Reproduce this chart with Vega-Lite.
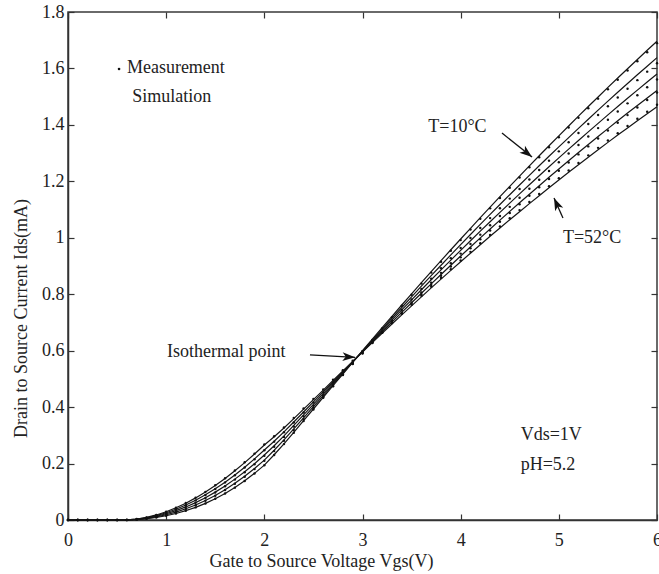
{
  "$schema": "https://vega.github.io/schema/vega-lite/v6.json",
  "width": 589,
  "height": 508,
  "autosize": "none",
  "padding": {"left": 68, "top": 12, "right": 2, "bottom": 54},
  "background": "white",
  "config": {
    "view": {"stroke": "#3a3a3a", "strokeWidth": 1.5},
    "font": "Liberation Serif",
    "axis": {
      "labelFont": "Liberation Serif",
      "titleFont": "Liberation Serif",
      "labelFontSize": 18,
      "titleFontSize": 18,
      "titleFontWeight": "normal",
      "labelColor": "#222",
      "titleColor": "#222",
      "tickColor": "#333",
      "domainColor": "#333",
      "domainWidth": 1.5,
      "tickWidth": 1.2,
      "grid": false
    }
  },
  "datasets": {
    "curves": [
      {"T": 10, "v": 0, "sim": 0, "meas": 0}, {"T": 10, "v": 0.1, "sim": 0, "meas": 0}, {"T": 10, "v": 0.2, "sim": 0, "meas": 0}, {"T": 10, "v": 0.3, "sim": 0, "meas": 0}, {"T": 10, "v": 0.4, "sim": 0, "meas": 0}, {"T": 10, "v": 0.5, "sim": 0, "meas": 0},
      {"T": 10, "v": 0.6, "sim": 0.0002, "meas": 0.0002}, {"T": 10, "v": 0.7, "sim": 0.0016, "meas": 0.0016}, {"T": 10, "v": 0.8, "sim": 0.0044, "meas": 0.0044}, {"T": 10, "v": 0.9, "sim": 0.0089, "meas": 0.0089}, {"T": 10, "v": 1.0, "sim": 0.0151, "meas": 0.0150},
      {"T": 10, "v": 1.1, "sim": 0.0230, "meas": 0.0229}, {"T": 10, "v": 1.2, "sim": 0.0330, "meas": 0.0329}, {"T": 10, "v": 1.3, "sim": 0.0449, "meas": 0.0447}, {"T": 10, "v": 1.4, "sim": 0.0590, "meas": 0.0588}, {"T": 10, "v": 1.5, "sim": 0.0753, "meas": 0.0750},
      {"T": 10, "v": 1.6, "sim": 0.0940, "meas": 0.0936}, {"T": 10, "v": 1.7, "sim": 0.1152, "meas": 0.1147}, {"T": 10, "v": 1.8, "sim": 0.1389, "meas": 0.1383}, {"T": 10, "v": 1.9, "sim": 0.1653, "meas": 0.1646}, {"T": 10, "v": 2.0, "sim": 0.1945, "meas": 0.1937},
      {"T": 10, "v": 2.1, "sim": 0.2312, "meas": 0.2303}, {"T": 10, "v": 2.2, "sim": 0.2700, "meas": 0.2689}, {"T": 10, "v": 2.3, "sim": 0.3107, "meas": 0.3095}, {"T": 10, "v": 2.4, "sim": 0.3520, "meas": 0.3506}, {"T": 10, "v": 2.5, "sim": 0.3933, "meas": 0.3917},
      {"T": 10, "v": 2.6, "sim": 0.4346, "meas": 0.4329}, {"T": 10, "v": 2.7, "sim": 0.4759, "meas": 0.4740}, {"T": 10, "v": 2.8, "sim": 0.5172, "meas": 0.5151}, {"T": 10, "v": 2.9, "sim": 0.5585, "meas": 0.5563}, {"T": 10, "v": 3.0, "sim": 0.5997, "meas": 0.5973},
      {"T": 10, "v": 3.1, "sim": 0.6407, "meas": 0.6381}, {"T": 10, "v": 3.2, "sim": 0.6814, "meas": 0.6787}, {"T": 10, "v": 3.3, "sim": 0.7217, "meas": 0.7188}, {"T": 10, "v": 3.4, "sim": 0.7618, "meas": 0.7588}, {"T": 10, "v": 3.5, "sim": 0.8015, "meas": 0.7983},
      {"T": 10, "v": 3.6, "sim": 0.8410, "meas": 0.8376}, {"T": 10, "v": 3.7, "sim": 0.8801, "meas": 0.8766}, {"T": 10, "v": 3.8, "sim": 0.9190, "meas": 0.9153}, {"T": 10, "v": 3.9, "sim": 0.9575, "meas": 0.9537}, {"T": 10, "v": 4.0, "sim": 0.9957, "meas": 0.9917},
      {"T": 10, "v": 4.1, "sim": 1.0336, "meas": 1.0295}, {"T": 10, "v": 4.2, "sim": 1.0713, "meas": 1.0670}, {"T": 10, "v": 4.3, "sim": 1.1086, "meas": 1.1042}, {"T": 10, "v": 4.4, "sim": 1.1456, "meas": 1.1410}, {"T": 10, "v": 4.5, "sim": 1.1823, "meas": 1.1776},
      {"T": 10, "v": 4.6, "sim": 1.2187, "meas": 1.2138}, {"T": 10, "v": 4.7, "sim": 1.2548, "meas": 1.2498}, {"T": 10, "v": 4.8, "sim": 1.2906, "meas": 1.2854}, {"T": 10, "v": 4.9, "sim": 1.3261, "meas": 1.3208}, {"T": 10, "v": 5.0, "sim": 1.3613, "meas": 1.3559},
      {"T": 10, "v": 5.1, "sim": 1.3962, "meas": 1.3906}, {"T": 10, "v": 5.2, "sim": 1.4308, "meas": 1.4251}, {"T": 10, "v": 5.3, "sim": 1.4650, "meas": 1.4591}, {"T": 10, "v": 5.4, "sim": 1.4990, "meas": 1.4930}, {"T": 10, "v": 5.5, "sim": 1.5327, "meas": 1.5266},
      {"T": 10, "v": 5.6, "sim": 1.5660, "meas": 1.5597}, {"T": 10, "v": 5.7, "sim": 1.5991, "meas": 1.5927}, {"T": 10, "v": 5.8, "sim": 1.6319, "meas": 1.6254}, {"T": 10, "v": 5.9, "sim": 1.6643, "meas": 1.6576}, {"T": 10, "v": 6.0, "sim": 1.6965, "meas": 1.6897},

      {"T": 20, "v": 0, "sim": 0, "meas": 0}, {"T": 20, "v": 0.1, "sim": 0, "meas": 0}, {"T": 20, "v": 0.2, "sim": 0, "meas": 0}, {"T": 20, "v": 0.3, "sim": 0, "meas": 0}, {"T": 20, "v": 0.4, "sim": 0, "meas": 0}, {"T": 20, "v": 0.5, "sim": 0, "meas": 0},
      {"T": 20, "v": 0.6, "sim": 0.0002, "meas": 0.0002}, {"T": 20, "v": 0.7, "sim": 0.0020, "meas": 0.0020}, {"T": 20, "v": 0.8, "sim": 0.0056, "meas": 0.0055}, {"T": 20, "v": 0.9, "sim": 0.0111, "meas": 0.0110}, {"T": 20, "v": 1.0, "sim": 0.0186, "meas": 0.0184},
      {"T": 20, "v": 1.1, "sim": 0.0281, "meas": 0.0278}, {"T": 20, "v": 1.2, "sim": 0.0397, "meas": 0.0392}, {"T": 20, "v": 1.3, "sim": 0.0533, "meas": 0.0527}, {"T": 20, "v": 1.4, "sim": 0.0690, "meas": 0.0682}, {"T": 20, "v": 1.5, "sim": 0.0871, "meas": 0.0861},
      {"T": 20, "v": 1.6, "sim": 0.1074, "meas": 0.1061}, {"T": 20, "v": 1.7, "sim": 0.1300, "meas": 0.1284}, {"T": 20, "v": 1.8, "sim": 0.1550, "meas": 0.1531}, {"T": 20, "v": 1.9, "sim": 0.1825, "meas": 0.1803}, {"T": 20, "v": 2.0, "sim": 0.2123, "meas": 0.2098},
      {"T": 20, "v": 2.1, "sim": 0.2471, "meas": 0.2441}, {"T": 20, "v": 2.2, "sim": 0.2840, "meas": 0.2806}, {"T": 20, "v": 2.3, "sim": 0.3228, "meas": 0.3189}, {"T": 20, "v": 2.4, "sim": 0.3622, "meas": 0.3579}, {"T": 20, "v": 2.5, "sim": 0.4016, "meas": 0.3968},
      {"T": 20, "v": 2.6, "sim": 0.4410, "meas": 0.4357}, {"T": 20, "v": 2.7, "sim": 0.4804, "meas": 0.4746}, {"T": 20, "v": 2.8, "sim": 0.5198, "meas": 0.5136}, {"T": 20, "v": 2.9, "sim": 0.5592, "meas": 0.5525}, {"T": 20, "v": 3.0, "sim": 0.5985, "meas": 0.5913},
      {"T": 20, "v": 3.1, "sim": 0.6376, "meas": 0.6299}, {"T": 20, "v": 3.2, "sim": 0.6764, "meas": 0.6683}, {"T": 20, "v": 3.3, "sim": 0.7148, "meas": 0.7062}, {"T": 20, "v": 3.4, "sim": 0.7530, "meas": 0.7440}, {"T": 20, "v": 3.5, "sim": 0.7908, "meas": 0.7813},
      {"T": 20, "v": 3.6, "sim": 0.8284, "meas": 0.8185}, {"T": 20, "v": 3.7, "sim": 0.8656, "meas": 0.8552}, {"T": 20, "v": 3.8, "sim": 0.9026, "meas": 0.8918}, {"T": 20, "v": 3.9, "sim": 0.9392, "meas": 0.9279}, {"T": 20, "v": 4.0, "sim": 0.9755, "meas": 0.9638},
      {"T": 20, "v": 4.1, "sim": 1.0115, "meas": 0.9994}, {"T": 20, "v": 4.2, "sim": 1.0473, "meas": 1.0347}, {"T": 20, "v": 4.3, "sim": 1.0827, "meas": 1.0697}, {"T": 20, "v": 4.4, "sim": 1.1178, "meas": 1.1044}, {"T": 20, "v": 4.5, "sim": 1.1526, "meas": 1.1388},
      {"T": 20, "v": 4.6, "sim": 1.1871, "meas": 1.1729}, {"T": 20, "v": 4.7, "sim": 1.2213, "meas": 1.2066}, {"T": 20, "v": 4.8, "sim": 1.2552, "meas": 1.2401}, {"T": 20, "v": 4.9, "sim": 1.2888, "meas": 1.2733}, {"T": 20, "v": 5.0, "sim": 1.3221, "meas": 1.3062},
      {"T": 20, "v": 5.1, "sim": 1.3551, "meas": 1.3388}, {"T": 20, "v": 5.2, "sim": 1.3878, "meas": 1.3711}, {"T": 20, "v": 5.3, "sim": 1.4201, "meas": 1.4031}, {"T": 20, "v": 5.4, "sim": 1.4522, "meas": 1.4348}, {"T": 20, "v": 5.5, "sim": 1.4840, "meas": 1.4662},
      {"T": 20, "v": 5.6, "sim": 1.5154, "meas": 1.4972}, {"T": 20, "v": 5.7, "sim": 1.5466, "meas": 1.5280}, {"T": 20, "v": 5.8, "sim": 1.5775, "meas": 1.5586}, {"T": 20, "v": 5.9, "sim": 1.6080, "meas": 1.5887}, {"T": 20, "v": 6.0, "sim": 1.6383, "meas": 1.6186},

      {"T": 30, "v": 0, "sim": 0, "meas": 0}, {"T": 30, "v": 0.1, "sim": 0, "meas": 0}, {"T": 30, "v": 0.2, "sim": 0, "meas": 0}, {"T": 30, "v": 0.3, "sim": 0, "meas": 0}, {"T": 30, "v": 0.4, "sim": 0, "meas": 0}, {"T": 30, "v": 0.5, "sim": 0, "meas": 0},
      {"T": 30, "v": 0.6, "sim": 0.0003, "meas": 0.0003}, {"T": 30, "v": 0.7, "sim": 0.0025, "meas": 0.0025}, {"T": 30, "v": 0.8, "sim": 0.0068, "meas": 0.0067}, {"T": 30, "v": 0.9, "sim": 0.0134, "meas": 0.0132}, {"T": 30, "v": 1.0, "sim": 0.0222, "meas": 0.0219},
      {"T": 30, "v": 1.1, "sim": 0.0331, "meas": 0.0327}, {"T": 30, "v": 1.2, "sim": 0.0463, "meas": 0.0457}, {"T": 30, "v": 1.3, "sim": 0.0616, "meas": 0.0609}, {"T": 30, "v": 1.4, "sim": 0.0791, "meas": 0.0782}, {"T": 30, "v": 1.5, "sim": 0.0988, "meas": 0.0976},
      {"T": 30, "v": 1.6, "sim": 0.1207, "meas": 0.1193}, {"T": 30, "v": 1.7, "sim": 0.1448, "meas": 0.1431}, {"T": 30, "v": 1.8, "sim": 0.1711, "meas": 0.1690}, {"T": 30, "v": 1.9, "sim": 0.1996, "meas": 0.1972}, {"T": 30, "v": 2.0, "sim": 0.2302, "meas": 0.2274},
      {"T": 30, "v": 2.1, "sim": 0.2631, "meas": 0.2599}, {"T": 30, "v": 2.2, "sim": 0.2981, "meas": 0.2945}, {"T": 30, "v": 2.3, "sim": 0.3350, "meas": 0.3310}, {"T": 30, "v": 2.4, "sim": 0.3725, "meas": 0.3680}, {"T": 30, "v": 2.5, "sim": 0.4100, "meas": 0.4051},
      {"T": 30, "v": 2.6, "sim": 0.4475, "meas": 0.4421}, {"T": 30, "v": 2.7, "sim": 0.4850, "meas": 0.4792}, {"T": 30, "v": 2.8, "sim": 0.5225, "meas": 0.5162}, {"T": 30, "v": 2.9, "sim": 0.5600, "meas": 0.5533}, {"T": 30, "v": 3.0, "sim": 0.5974, "meas": 0.5902},
      {"T": 30, "v": 3.1, "sim": 0.6346, "meas": 0.6270}, {"T": 30, "v": 3.2, "sim": 0.6715, "meas": 0.6634}, {"T": 30, "v": 3.3, "sim": 0.7080, "meas": 0.6995}, {"T": 30, "v": 3.4, "sim": 0.7443, "meas": 0.7354}, {"T": 30, "v": 3.5, "sim": 0.7802, "meas": 0.7708},
      {"T": 30, "v": 3.6, "sim": 0.8159, "meas": 0.8061}, {"T": 30, "v": 3.7, "sim": 0.8512, "meas": 0.8410}, {"T": 30, "v": 3.8, "sim": 0.8863, "meas": 0.8757}, {"T": 30, "v": 3.9, "sim": 0.9210, "meas": 0.9099}, {"T": 30, "v": 4.0, "sim": 0.9554, "meas": 0.9439},
      {"T": 30, "v": 4.1, "sim": 0.9895, "meas": 0.9776}, {"T": 30, "v": 4.2, "sim": 1.0234, "meas": 1.0111}, {"T": 30, "v": 4.3, "sim": 1.0569, "meas": 1.0442}, {"T": 30, "v": 4.4, "sim": 1.0901, "meas": 1.0770}, {"T": 30, "v": 4.5, "sim": 1.1230, "meas": 1.1095},
      {"T": 30, "v": 4.6, "sim": 1.1556, "meas": 1.1417}, {"T": 30, "v": 4.7, "sim": 1.1879, "meas": 1.1736}, {"T": 30, "v": 4.8, "sim": 1.2199, "meas": 1.2053}, {"T": 30, "v": 4.9, "sim": 1.2516, "meas": 1.2366}, {"T": 30, "v": 5.0, "sim": 1.2830, "meas": 1.2676},
      {"T": 30, "v": 5.1, "sim": 1.3141, "meas": 1.2983}, {"T": 30, "v": 5.2, "sim": 1.3449, "meas": 1.3288}, {"T": 30, "v": 5.3, "sim": 1.3753, "meas": 1.3588}, {"T": 30, "v": 5.4, "sim": 1.4055, "meas": 1.3886}, {"T": 30, "v": 5.5, "sim": 1.4354, "meas": 1.4182},
      {"T": 30, "v": 5.6, "sim": 1.4649, "meas": 1.4473}, {"T": 30, "v": 5.7, "sim": 1.4942, "meas": 1.4763}, {"T": 30, "v": 5.8, "sim": 1.5232, "meas": 1.5049}, {"T": 30, "v": 5.9, "sim": 1.5518, "meas": 1.5332}, {"T": 30, "v": 6.0, "sim": 1.5802, "meas": 1.5612},

      {"T": 40, "v": 0, "sim": 0, "meas": 0}, {"T": 40, "v": 0.1, "sim": 0, "meas": 0}, {"T": 40, "v": 0.2, "sim": 0, "meas": 0}, {"T": 40, "v": 0.3, "sim": 0, "meas": 0}, {"T": 40, "v": 0.4, "sim": 0, "meas": 0}, {"T": 40, "v": 0.5, "sim": 0, "meas": 0},
      {"T": 40, "v": 0.6, "sim": 0.0004, "meas": 0.0004}, {"T": 40, "v": 0.7, "sim": 0.0030, "meas": 0.0030}, {"T": 40, "v": 0.8, "sim": 0.0080, "meas": 0.0080}, {"T": 40, "v": 0.9, "sim": 0.0157, "meas": 0.0156}, {"T": 40, "v": 1.0, "sim": 0.0258, "meas": 0.0257},
      {"T": 40, "v": 1.1, "sim": 0.0381, "meas": 0.0379}, {"T": 40, "v": 1.2, "sim": 0.0529, "meas": 0.0526}, {"T": 40, "v": 1.3, "sim": 0.0699, "meas": 0.0696}, {"T": 40, "v": 1.4, "sim": 0.0892, "meas": 0.0888}, {"T": 40, "v": 1.5, "sim": 0.1105, "meas": 0.1099},
      {"T": 40, "v": 1.6, "sim": 0.1340, "meas": 0.1333}, {"T": 40, "v": 1.7, "sim": 0.1596, "meas": 0.1588}, {"T": 40, "v": 1.8, "sim": 0.1872, "meas": 0.1863}, {"T": 40, "v": 1.9, "sim": 0.2167, "meas": 0.2156}, {"T": 40, "v": 2.0, "sim": 0.2481, "meas": 0.2469},
      {"T": 40, "v": 2.1, "sim": 0.2791, "meas": 0.2777}, {"T": 40, "v": 2.2, "sim": 0.3122, "meas": 0.3106}, {"T": 40, "v": 2.3, "sim": 0.3472, "meas": 0.3455}, {"T": 40, "v": 2.4, "sim": 0.3828, "meas": 0.3809}, {"T": 40, "v": 2.5, "sim": 0.4184, "meas": 0.4163},
      {"T": 40, "v": 2.6, "sim": 0.4540, "meas": 0.4517}, {"T": 40, "v": 2.7, "sim": 0.4896, "meas": 0.4872}, {"T": 40, "v": 2.8, "sim": 0.5252, "meas": 0.5226}, {"T": 40, "v": 2.9, "sim": 0.5608, "meas": 0.5580}, {"T": 40, "v": 3.0, "sim": 0.5963, "meas": 0.5933},
      {"T": 40, "v": 3.1, "sim": 0.6316, "meas": 0.6284}, {"T": 40, "v": 3.2, "sim": 0.6666, "meas": 0.6633}, {"T": 40, "v": 3.3, "sim": 0.7012, "meas": 0.6977}, {"T": 40, "v": 3.4, "sim": 0.7356, "meas": 0.7319}, {"T": 40, "v": 3.5, "sim": 0.7696, "meas": 0.7658},
      {"T": 40, "v": 3.6, "sim": 0.8034, "meas": 0.7994}, {"T": 40, "v": 3.7, "sim": 0.8368, "meas": 0.8326}, {"T": 40, "v": 3.8, "sim": 0.8700, "meas": 0.8657}, {"T": 40, "v": 3.9, "sim": 0.9028, "meas": 0.8983}, {"T": 40, "v": 4.0, "sim": 0.9353, "meas": 0.9306},
      {"T": 40, "v": 4.1, "sim": 0.9675, "meas": 0.9627}, {"T": 40, "v": 4.2, "sim": 0.9995, "meas": 0.9945}, {"T": 40, "v": 4.3, "sim": 1.0311, "meas": 1.0259}, {"T": 40, "v": 4.4, "sim": 1.0624, "meas": 1.0571}, {"T": 40, "v": 4.5, "sim": 1.0934, "meas": 1.0879},
      {"T": 40, "v": 4.6, "sim": 1.1241, "meas": 1.1185}, {"T": 40, "v": 4.7, "sim": 1.1545, "meas": 1.1487}, {"T": 40, "v": 4.8, "sim": 1.1846, "meas": 1.1787}, {"T": 40, "v": 4.9, "sim": 1.2144, "meas": 1.2083}, {"T": 40, "v": 5.0, "sim": 1.2439, "meas": 1.2377},
      {"T": 40, "v": 5.1, "sim": 1.2731, "meas": 1.2667}, {"T": 40, "v": 5.2, "sim": 1.3020, "meas": 1.2955}, {"T": 40, "v": 5.3, "sim": 1.3305, "meas": 1.3238}, {"T": 40, "v": 5.4, "sim": 1.3588, "meas": 1.3520}, {"T": 40, "v": 5.5, "sim": 1.3868, "meas": 1.3799},
      {"T": 40, "v": 5.6, "sim": 1.4144, "meas": 1.4073}, {"T": 40, "v": 5.7, "sim": 1.4418, "meas": 1.4346}, {"T": 40, "v": 5.8, "sim": 1.4689, "meas": 1.4616}, {"T": 40, "v": 5.9, "sim": 1.4956, "meas": 1.4881}, {"T": 40, "v": 6.0, "sim": 1.5221, "meas": 1.5145},

      {"T": 52, "v": 0, "sim": 0, "meas": 0}, {"T": 52, "v": 0.1, "sim": 0, "meas": 0}, {"T": 52, "v": 0.2, "sim": 0, "meas": 0}, {"T": 52, "v": 0.3, "sim": 0, "meas": 0}, {"T": 52, "v": 0.4, "sim": 0, "meas": 0}, {"T": 52, "v": 0.5, "sim": 0, "meas": 0},
      {"T": 52, "v": 0.6, "sim": 0.0004, "meas": 0.0004}, {"T": 52, "v": 0.7, "sim": 0.0034, "meas": 0.0034}, {"T": 52, "v": 0.8, "sim": 0.0092, "meas": 0.0092}, {"T": 52, "v": 0.9, "sim": 0.0179, "meas": 0.0180}, {"T": 52, "v": 1.0, "sim": 0.0293, "meas": 0.0294},
      {"T": 52, "v": 1.1, "sim": 0.0432, "meas": 0.0434}, {"T": 52, "v": 1.2, "sim": 0.0596, "meas": 0.0599}, {"T": 52, "v": 1.3, "sim": 0.0783, "meas": 0.0787}, {"T": 52, "v": 1.4, "sim": 0.0992, "meas": 0.0997}, {"T": 52, "v": 1.5, "sim": 0.1223, "meas": 0.1229},
      {"T": 52, "v": 1.6, "sim": 0.1474, "meas": 0.1481}, {"T": 52, "v": 1.7, "sim": 0.1744, "meas": 0.1753}, {"T": 52, "v": 1.8, "sim": 0.2033, "meas": 0.2043}, {"T": 52, "v": 1.9, "sim": 0.2339, "meas": 0.2351}, {"T": 52, "v": 2.0, "sim": 0.2659, "meas": 0.2672},
      {"T": 52, "v": 2.1, "sim": 0.2950, "meas": 0.2965}, {"T": 52, "v": 2.2, "sim": 0.3262, "meas": 0.3278}, {"T": 52, "v": 2.3, "sim": 0.3593, "meas": 0.3611}, {"T": 52, "v": 2.4, "sim": 0.3930, "meas": 0.3950}, {"T": 52, "v": 2.5, "sim": 0.4267, "meas": 0.4288},
      {"T": 52, "v": 2.6, "sim": 0.4604, "meas": 0.4627}, {"T": 52, "v": 2.7, "sim": 0.4941, "meas": 0.4966}, {"T": 52, "v": 2.8, "sim": 0.5278, "meas": 0.5304}, {"T": 52, "v": 2.9, "sim": 0.5615, "meas": 0.5643}, {"T": 52, "v": 3.0, "sim": 0.5951, "meas": 0.5981},
      {"T": 52, "v": 3.1, "sim": 0.6285, "meas": 0.6316}, {"T": 52, "v": 3.2, "sim": 0.6616, "meas": 0.6649}, {"T": 52, "v": 3.3, "sim": 0.6943, "meas": 0.6978}, {"T": 52, "v": 3.4, "sim": 0.7268, "meas": 0.7304}, {"T": 52, "v": 3.5, "sim": 0.7589, "meas": 0.7627},
      {"T": 52, "v": 3.6, "sim": 0.7908, "meas": 0.7948}, {"T": 52, "v": 3.7, "sim": 0.8223, "meas": 0.8264}, {"T": 52, "v": 3.8, "sim": 0.8536, "meas": 0.8579}, {"T": 52, "v": 3.9, "sim": 0.8845, "meas": 0.8889}, {"T": 52, "v": 4.0, "sim": 0.9151, "meas": 0.9197},
      {"T": 52, "v": 4.1, "sim": 0.9454, "meas": 0.9501}, {"T": 52, "v": 4.2, "sim": 0.9755, "meas": 0.9804}, {"T": 52, "v": 4.3, "sim": 1.0052, "meas": 1.0102}, {"T": 52, "v": 4.4, "sim": 1.0346, "meas": 1.0398}, {"T": 52, "v": 4.5, "sim": 1.0637, "meas": 1.0690},
      {"T": 52, "v": 4.6, "sim": 1.0925, "meas": 1.0980}, {"T": 52, "v": 4.7, "sim": 1.1210, "meas": 1.1266}, {"T": 52, "v": 4.8, "sim": 1.1492, "meas": 1.1549}, {"T": 52, "v": 4.9, "sim": 1.1771, "meas": 1.1830}, {"T": 52, "v": 5.0, "sim": 1.2047, "meas": 1.2107},
      {"T": 52, "v": 5.1, "sim": 1.2320, "meas": 1.2382}, {"T": 52, "v": 5.2, "sim": 1.2590, "meas": 1.2653}, {"T": 52, "v": 5.3, "sim": 1.2856, "meas": 1.2920}, {"T": 52, "v": 5.4, "sim": 1.3120, "meas": 1.3186}, {"T": 52, "v": 5.5, "sim": 1.3381, "meas": 1.3448},
      {"T": 52, "v": 5.6, "sim": 1.3638, "meas": 1.3706}, {"T": 52, "v": 5.7, "sim": 1.3893, "meas": 1.3962}, {"T": 52, "v": 5.8, "sim": 1.4145, "meas": 1.4216}, {"T": 52, "v": 5.9, "sim": 1.4393, "meas": 1.4465}, {"T": 52, "v": 6.0, "sim": 1.4639, "meas": 1.4712}
    ],
    "notes": [
      {"label": "Measurement", "x": 0.6, "y": 1.602},
      {"label": "Simulation", "x": 0.655, "y": 1.5},
      {"label": "T=10°C", "x": 3.67, "y": 1.393},
      {"label": "T=52°C", "x": 5.042, "y": 0.999},
      {"label": "Isothermal point", "x": 1.008, "y": 0.595},
      {"label": "Vds=1V", "x": 4.611, "y": 0.301},
      {"label": "pH=5.2", "x": 4.611, "y": 0.195}
    ],
    "arrows": [
      {"x": 2.465, "y": 0.585, "x2": 2.924, "y2": 0.5765, "angle": 93},
      {"x": 4.421, "y": 1.371, "x2": 4.727, "y2": 1.286, "angle": 128.7},
      {"x": 5.042, "y": 1.07, "x2": 4.951, "y2": 1.141, "angle": 335.8}
    ],
    "legendDot": [{"x": 0.52, "y": 1.598}]
  },
  "resolve": {"axis": {"x": "independent", "y": "independent"}},
  "layer": [
    {
      "data": {"name": "curves"},
      "mark": {"type": "line", "color": "#151515", "strokeWidth": 1.2},
      "encoding": {
        "x": {"field": "v", "type": "quantitative", "scale": {"domain": [0, 6], "nice": false},
          "axis": {"orient": "bottom", "values": [0, 1, 2, 3, 4, 5, 6], "title": "Gate to Source Voltage Vgs(V)", "tickSize": -6, "labelPadding": 17, "labelFlush": false, "labelOverlap": false, "titleX": 253, "titleY": 41, "titleAlign": "center", "titleBaseline": "middle"}},
        "y": {"field": "sim", "type": "quantitative", "scale": {"domain": [0, 1.8], "nice": false},
          "axis": {"orient": "left", "values": [0, 0.2, 0.4, 0.6, 0.8, 1, 1.2, 1.4, 1.6, 1.8], "format": ".1~f", "title": "Drain to Source Current Ids(mA)", "tickSize": -6, "labelPadding": 10, "labelOverlap": false, "titleX": -47, "titleY": 306, "titleAngle": -90, "titleAlign": "center", "titleBaseline": "middle"}},
        "detail": {"field": "T", "type": "nominal"}
      }
    },
    {
      "data": {"name": "curves"},
      "mark": {"type": "point", "filled": true, "size": 6, "color": "#111", "opacity": 1},
      "encoding": {
        "x": {"field": "v", "type": "quantitative", "scale": {"domain": [0, 6], "nice": false},
          "axis": {"orient": "top", "values": [0, 1, 2, 3, 4, 5, 6], "labels": false, "title": null, "tickSize": -6, "domain": false}},
        "y": {"field": "meas", "type": "quantitative", "scale": {"domain": [0, 1.8], "nice": false},
          "axis": {"orient": "right", "values": [0, 0.2, 0.4, 0.6, 0.8, 1, 1.2, 1.4, 1.6, 1.8], "labels": false, "title": null, "tickSize": -6, "domain": false}}
      }
    },
    {
      "data": {"name": "notes"},
      "mark": {"type": "text", "align": "left", "baseline": "middle", "font": "Liberation Serif", "fontSize": 18, "color": "#222"},
      "encoding": {
        "x": {"field": "x", "type": "quantitative", "axis": null},
        "y": {"field": "y", "type": "quantitative", "axis": null},
        "text": {"field": "label"}
      }
    },
    {
      "data": {"name": "arrows"},
      "mark": {"type": "rule", "color": "#111", "strokeWidth": 1.3},
      "encoding": {
        "x": {"field": "x", "type": "quantitative", "axis": null},
        "y": {"field": "y", "type": "quantitative", "axis": null},
        "x2": {"field": "x2"},
        "y2": {"field": "y2"}
      }
    },
    {
      "data": {"name": "arrows"},
      "mark": {"type": "point", "shape": "M0,0L0.6,1.7L0,1.25L-0.6,1.7Z", "filled": true, "size": 220, "color": "#111", "opacity": 1},
      "encoding": {
        "x": {"field": "x2", "type": "quantitative", "axis": null},
        "y": {"field": "y2", "type": "quantitative", "axis": null},
        "angle": {"field": "angle", "type": "quantitative", "scale": null}
      }
    },
    {
      "data": {"name": "legendDot"},
      "mark": {"type": "point", "filled": true, "size": 7, "color": "#111", "opacity": 1},
      "encoding": {
        "x": {"field": "x", "type": "quantitative", "axis": null},
        "y": {"field": "y", "type": "quantitative", "axis": null}
      }
    }
  ]
}
